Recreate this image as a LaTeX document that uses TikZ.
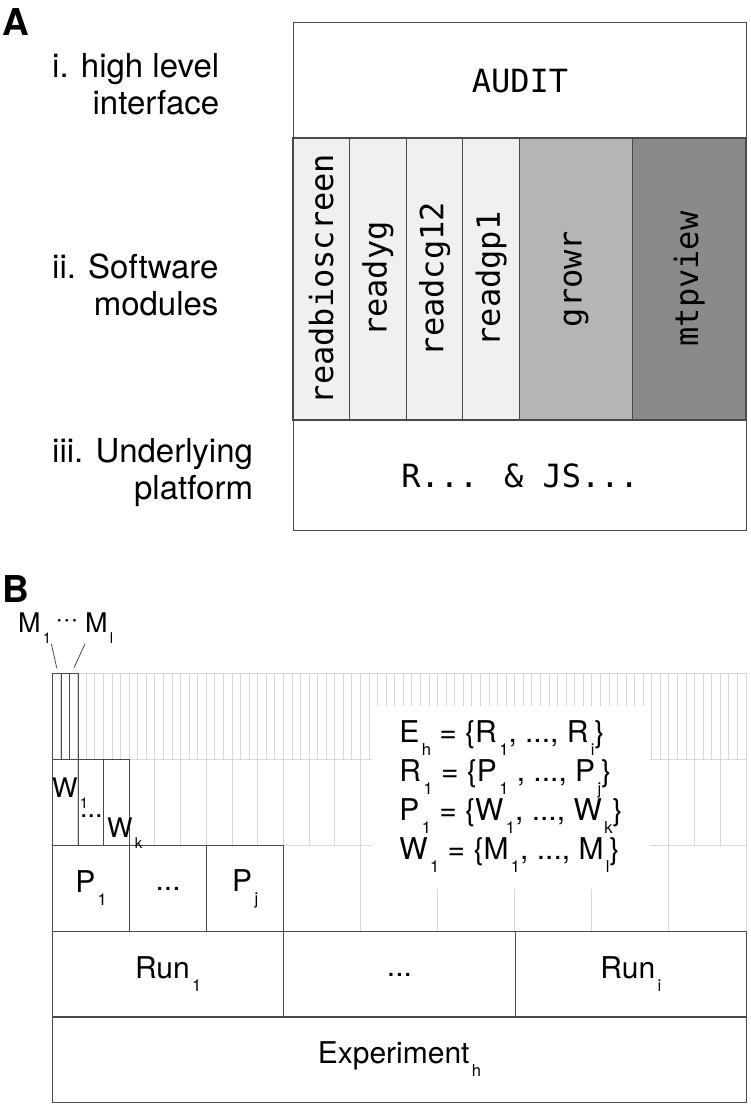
\documentclass[tikz,border=0pt]{standalone}
\usepackage{fontspec}
\usepackage{graphicx}
\setmainfont{TeX Gyre Heros}
\newfontfamily\codefont{DejaVu Sans Mono}
\definecolor{lightline}{HTML}{D8D8D8}
\definecolor{darkline}{HTML}{4A4A4A}
\definecolor{modlight}{HTML}{F0F0F0}
\definecolor{modmid}{HTML}{B5B5B5}
\definecolor{moddark}{HTML}{8A8A8A}
\newcommand\subx[1]{\kern0.08em\raisebox{-0.43em}{\scalebox{0.55}{#1}}}
\newcommand\etcdots{...}

\begin{document}
\begin{tikzpicture}[x=1pt,y=-1pt,
        layer/.style = {draw=darkline, line width=1.2pt, minimum width=453pt, anchor=north west, font=\codefont\fontsize{32}{38}\selectfont},
        module/.style = {draw=darkline, line width=1.2pt, rotate=90, minimum width=282pt, inner sep=0pt, font=\codefont\fontsize{32}{38}\selectfont},
        tag/.style = {inner sep=0pt, align=right, anchor=north west, font=\fontsize{33}{37}\selectfont},
        panel/.style = {inner sep=0pt, anchor=north west, font=\bfseries\fontsize{37}{40}\selectfont},
        cell/.style = {draw=darkline, line width=1pt, anchor=north west, minimum height=86pt, inner sep=0pt, font=\fontsize{30}{36}\selectfont},
        grid/.style = {draw=lightline, line width=0.8pt},
        lbl/.style = {inner sep=0pt, anchor=base west, font=\fontsize{27}{32}\selectfont}]
    \useasboundingbox (0,0) rectangle (751,1106);

    \node[panel] (pa) at (2,8) {A};
    \node[layer, minimum height=116pt] (audit) at (293,22) {AUDIT};
    \foreach \name/\x/\w/\col in {readbioscreen/0/1/modlight, readyg/1/1/modlight, readcg12/2/1/modlight, readgp1/3/1/modlight, growr/4/2/modmid, mtpview/6/2/moddark}
        \node[module, fill=\col, minimum height=\w*56.625pt] (\name) at ({293+(\x+\w/2)*56.625},279) {\name};
    \node[layer, minimum height=110pt] (platform) at (293,420) {R... \& JS...};
    \node[tag] (ilevel) at (52,53) {i. high level\\interface};
    \node[tag] (iilevel) at (52,254) {ii. Software\\modules};
    \node[tag] (iiilevel) at (52,438) {iii. Underlying\\platform};

    \node[panel] (pb) at (2,575) {B};
    \foreach \i in {0,...,81} \draw[grid] ({52+\i*8.5679},673) -- ++(0,86);
    \foreach \i in {0,...,27} \draw[grid] ({52+\i*25.7037},759) -- ++(0,86);
    \foreach \i in {0,...,9} \draw[grid] ({52+\i*77.111},845) -- ++(0,86);
    \foreach \y in {673,759,845} \draw[grid] (52,\y) -- (746,\y);
    \node[fill=white, inner sep=0pt, minimum width=278pt, minimum height=183pt, align=left, font=\fontsize{30}{39}\selectfont] (sets) at (511,797)
        {E\subx{h} = \{R\subx{1}, ..., R\subx{i}\}\\R\subx{1} = \{P\subx{1} , ..., P\subx{j}\}\\P\subx{1} = \{W\subx{1}, ..., W\subx{k}\}\\W\subx{1} = \{M\subx{1}, ..., M\subx{l}\}};

    \foreach \i in {1,2,3} {
        \node[cell, minimum width=8.568pt] (m\i) at ({52+(\i-1)*8.5679},673) {};
        \node[cell, minimum width=25.704pt] (w\i) at ({52+(\i-1)*25.7037},759) {};
    }
    \foreach \i/\t in {1/P\subx{1}, 2/\etcdots, 3/P\subx{j}}
        \node[cell, minimum width=77.111pt] (p\i) at ({52+(\i-1)*77.111},845) {\t};
    \foreach \i/\t in {1/Run\subx{1}, 2/\etcdots, 3/Run\subx{i}}
        \node[cell, minimum width=231.333pt] (run\i) at ({52+(\i-1)*231.333},931) {\t};
    \node[cell, minimum width=694pt] (exp) at (52,1016) {Experiment\subx{h}};

    \node[lbl] (mfirst) at (18,632) {M\subx{1}};
    \node[lbl, anchor=center] (mdots) at (67,623) {···};
    \node[lbl] (mlast) at (85,632) {M\subx{l}};
    \draw[darkline, line width=0.8pt] (mfirst.south east) -- ([yshift=5pt]m1.north);
    \draw[darkline, line width=0.8pt] (mlast.south west) -- ([yshift=5pt]m3.north);
    \node[lbl] (wfirst) at (52,797) {W\subx{1}};
    \node[lbl] (wdots) at (80,817) {...};
    \node[lbl] (wlast) at (107,837) {W\subx{k}};
\end{tikzpicture}
\end{document}
